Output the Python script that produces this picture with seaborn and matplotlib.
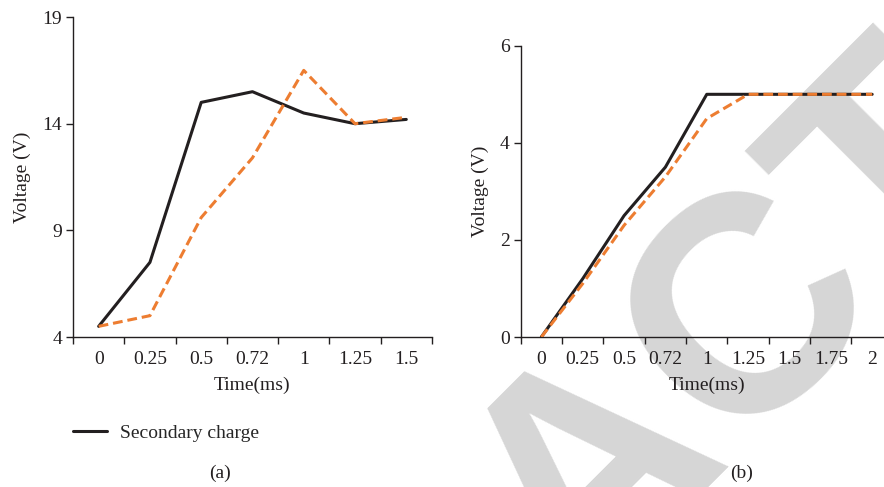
import matplotlib
matplotlib.use("Agg")
import matplotlib.pyplot as plt
import seaborn as sns
import pandas as pd
import numpy as np
from matplotlib.lines import Line2D

# Data
TIME_A = ['0', '0.25', '0.5', '0.72', '1', '1.25', '1.5']
SECONDARY_A = [4.5, 7.5, 15.0, 15.5, 14.5, 14.0, 14.2]
OTHER_A = [4.5, 5.0, 9.6, 12.4, 16.5, 14.0, 14.3]

TIME_B = ['0', '0.25', '0.5', '0.72', '1', '1.25', '1.5', '1.75', '2']
SECONDARY_B = [0.0, 1.2, 2.5, 3.5, 5.0, 5.0, 5.0, 5.0, 5.0]
OTHER_B = [0.0, 1.1, 2.3, 3.3, 4.5, 5.0, 5.0, 5.0, 5.0]

YTICKS_A = [4, 9, 14, 19]
YTICKS_B = [0, 2, 4, 6]

BLACK = '#231f20'
ORANGE = '#ed7d31'
WATERMARK = '#d6d6d6'

sns.set_theme(style='ticks')
plt.rcParams['font.family'] = ['Liberation Serif', 'DejaVu Serif']
plt.rcParams['font.size'] = 14


def draw_panel(ax, times, secondary, other, yticks):
    df = pd.DataFrame({'time': times, 'secondary': secondary, 'other': other})
    sns.lineplot(data=df, x='time', y='secondary', ax=ax, sort=False,
                 color=BLACK, lw=2.2, zorder=3)
    sns.lineplot(data=df, x='time', y='other', ax=ax, sort=False,
                 color=ORANGE, lw=2.2, ls=(0, (3.2, 1.6)), zorder=4)

    n = len(times)
    ax.set_xlim(-0.5, n - 0.5)
    ax.set_ylim(yticks[0], yticks[-1])
    ax.set_yticks(yticks)
    # boundary ticks without labels, labels centred on categories
    ax.set_xticks(np.arange(n + 1) - 0.5)
    ax.set_xticklabels([])
    ax.set_xticks(np.arange(n), minor=True)
    ax.set_xticklabels(times, minor=True)
    ax.tick_params(axis='x', which='major', length=5, width=1, color=BLACK)
    ax.tick_params(axis='x', which='minor', length=0, pad=10, labelsize=14,
                   labelcolor=BLACK)
    ax.tick_params(axis='y', length=5, width=1, color=BLACK, pad=3,
                   labelsize=14, labelcolor=BLACK)

    ax.set_xlabel('Time(ms)', fontsize=14, color=BLACK, labelpad=6)
    ax.set_ylabel('Voltage (V)', fontsize=14, color=BLACK, labelpad=8)
    for side in ['top', 'right']:
        ax.spines[side].set_visible(False)
    for side in ['left', 'bottom']:
        ax.spines[side].set_color(BLACK)
        ax.spines[side].set_linewidth(1.0)
    ax.patch.set_alpha(0)


fig = plt.figure(figsize=(8.84, 4.87), dpi=100)

# grey watermark behind the plots
fig.text(0.672, 0.04, 'RETRACTED', fontsize=222, fontweight='bold',
         family='Liberation Sans', color=WATERMARK, rotation=45,
         ha='center', va='center', rotation_mode='anchor', zorder=-5)

ax_a = fig.add_axes([0.0826, 0.308, 0.406, 0.657])
ax_b = fig.add_axes([0.589, 0.308, 0.421, 0.598])

draw_panel(ax_a, TIME_A, SECONDARY_A, OTHER_A, YTICKS_A)
draw_panel(ax_b, TIME_B, SECONDARY_B, OTHER_B, YTICKS_B)

legend_handle = Line2D([], [], color=BLACK, lw=2.2)
fig.legend([legend_handle], ['Secondary charge'], loc='center left',
           bbox_to_anchor=(0.063, 0.11), frameon=False, fontsize=14,
           handlelength=1.75, handletextpad=0.67)

fig.text(0.249, 0.029, '(a)', ha='center', va='center', fontsize=14, color=BLACK)
fig.text(0.839, 0.029, '(b)', ha='center', va='center', fontsize=14, color=BLACK)

fig.savefig('out.png', dpi=100)
